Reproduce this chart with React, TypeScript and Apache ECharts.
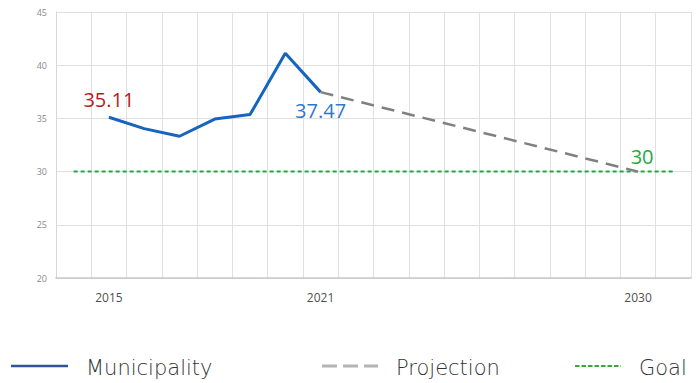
import React, { useEffect, useRef } from "react";
import * as echarts from "echarts";

const years = ["2014","2015","2016","2017","2018","2019","2020","2021","2022","2023","2024","2025","2026","2027","2028","2029","2030","2031"];
const labelYears = ["2015", "2021", "2030"];
const municipality = [null, 35.11, 34.04, 33.32, 34.94, 35.36, 41.13, 37.47, null, null, null, null, null, null, null, null, null, null];
const projection = [null, null, null, null, null, null, null, 37.47, null, null, null, null, null, null, null, null, 30, null];
const goal = [30, 30, 30, 30, 30, 30, 30, 30, 30, 30, 30, 30, 30, 30, 30, 30, 30, 30];
const yTicks = { min: 20, max: 45, interval: 5 };

const BLUE = "#1565c0";
const GRAY = "#808080";
const GREEN = "#1aab40";
const LABEL_FONT = "'Open Sans', sans-serif";
const LEGEND_FONT = "'DejaVu Sans', sans-serif";

export default function App() {
  const ref = useRef<HTMLDivElement>(null);
  useEffect(() => {
    if (!ref.current) return;
    const chart = echarts.init(ref.current, undefined, { renderer: "svg" });
    const munData = municipality.map((v, i) => {
      if (i === 1) return { value: v, label: { show: true, position: "top", distance: 8, color: "#b71c1c", fontSize: 20, fontFamily: LABEL_FONT, formatter: "{c}" } };
      if (i === 7) return { value: v, label: { show: true, position: "bottom", distance: 8, color: "#2e78c8", fontSize: 20, fontFamily: LABEL_FONT, formatter: "{c}" } };
      return v;
    });
    const projData = projection.map((v, i) => {
      if (i === 16) return { value: v, label: { show: true, position: "top", distance: 5, offset: [4, 0], color: "#1aab40", fontSize: 20, fontFamily: LABEL_FONT, formatter: "{c}" } };
      return v;
    });
    const legendY = 366;
    const textY = 368;
    const legendText = { fill: "#333", fontSize: 21, fontWeight: 200, fontFamily: LEGEND_FONT, verticalAlign: "middle", align: "left" };
    chart.setOption({
      animation: false,
      grid: { left: 56, right: 6, top: 12, bottom: 105, containLabel: false },
      xAxis: {
        type: "category",
        data: years,
        boundaryGap: true,
        axisLine: { show: true, lineStyle: { color: "#c8c8c8", width: 1.5 } },
        axisTick: { show: false },
        axisLabel: {
          interval: 0,
          margin: 13,
          fontSize: 12,
          color: "#505050",
          fontFamily: "'Open Sans', sans-serif",
          formatter: (v: string) => (labelYears.includes(v) ? v : ""),
        },
        splitLine: { show: true, interval: 0, lineStyle: { color: "#e0e0e0", width: 1 } },
      },
      yAxis: {
        type: "value",
        min: yTicks.min,
        max: yTicks.max,
        interval: yTicks.interval,
        axisLine: { show: true, lineStyle: { color: "#d6d6d6" } },
        axisTick: { show: false },
        axisLabel: { fontSize: 9, color: "#8a8a8a", margin: 9, fontFamily: "'Open Sans', sans-serif" },
        splitLine: { show: true, lineStyle: { color: "#e0e0e0", width: 1 } },
      },
      series: [
        {
          name: "Goal",
          type: "line",
          data: goal,
          symbol: "none",
          z: 1,
          lineStyle: { color: GREEN, width: 2, type: [4, 3] },
        },
        {
          name: "Projection",
          type: "line",
          data: projData,
          connectNulls: true,
          symbol: "circle",
          symbolSize: 0.1,
          itemStyle: { color: GRAY },
          z: 2,
          lineStyle: { color: GRAY, width: 2.5, type: [13, 8] },
        },
        {
          name: "Municipality",
          type: "line",
          data: munData,
          symbol: "circle",
          symbolSize: 0.1,
          itemStyle: { color: BLUE },
          z: 3,
          lineStyle: { color: BLUE, width: 3 },
        },
      ],
      graphic: [
        { type: "line", shape: { x1: 11, y1: legendY, x2: 68, y2: legendY }, style: { stroke: "#2f5597", lineWidth: 2.5 } },
        { type: "text", x: 86, y: textY, style: { text: "Municipality", ...legendText } },
        { type: "line", shape: { x1: 322, y1: legendY, x2: 378, y2: legendY }, style: { stroke: "#b4b4b4", lineWidth: 3, lineDash: [15, 6] } },
        { type: "text", x: 396, y: textY, style: { text: "Projection", ...legendText } },
        { type: "line", shape: { x1: 575, y1: legendY, x2: 621, y2: legendY }, style: { stroke: "#3aa83a", lineWidth: 2, lineDash: [4.5, 2] } },
        { type: "text", x: 639, y: textY, style: { text: "Goal", ...legendText } },
      ],
    });
    return () => chart.dispose();
  }, []);
  return <div ref={ref} style={{ width: 697, height: 383, position: "absolute", left: 0, top: 0 }} />;
}
